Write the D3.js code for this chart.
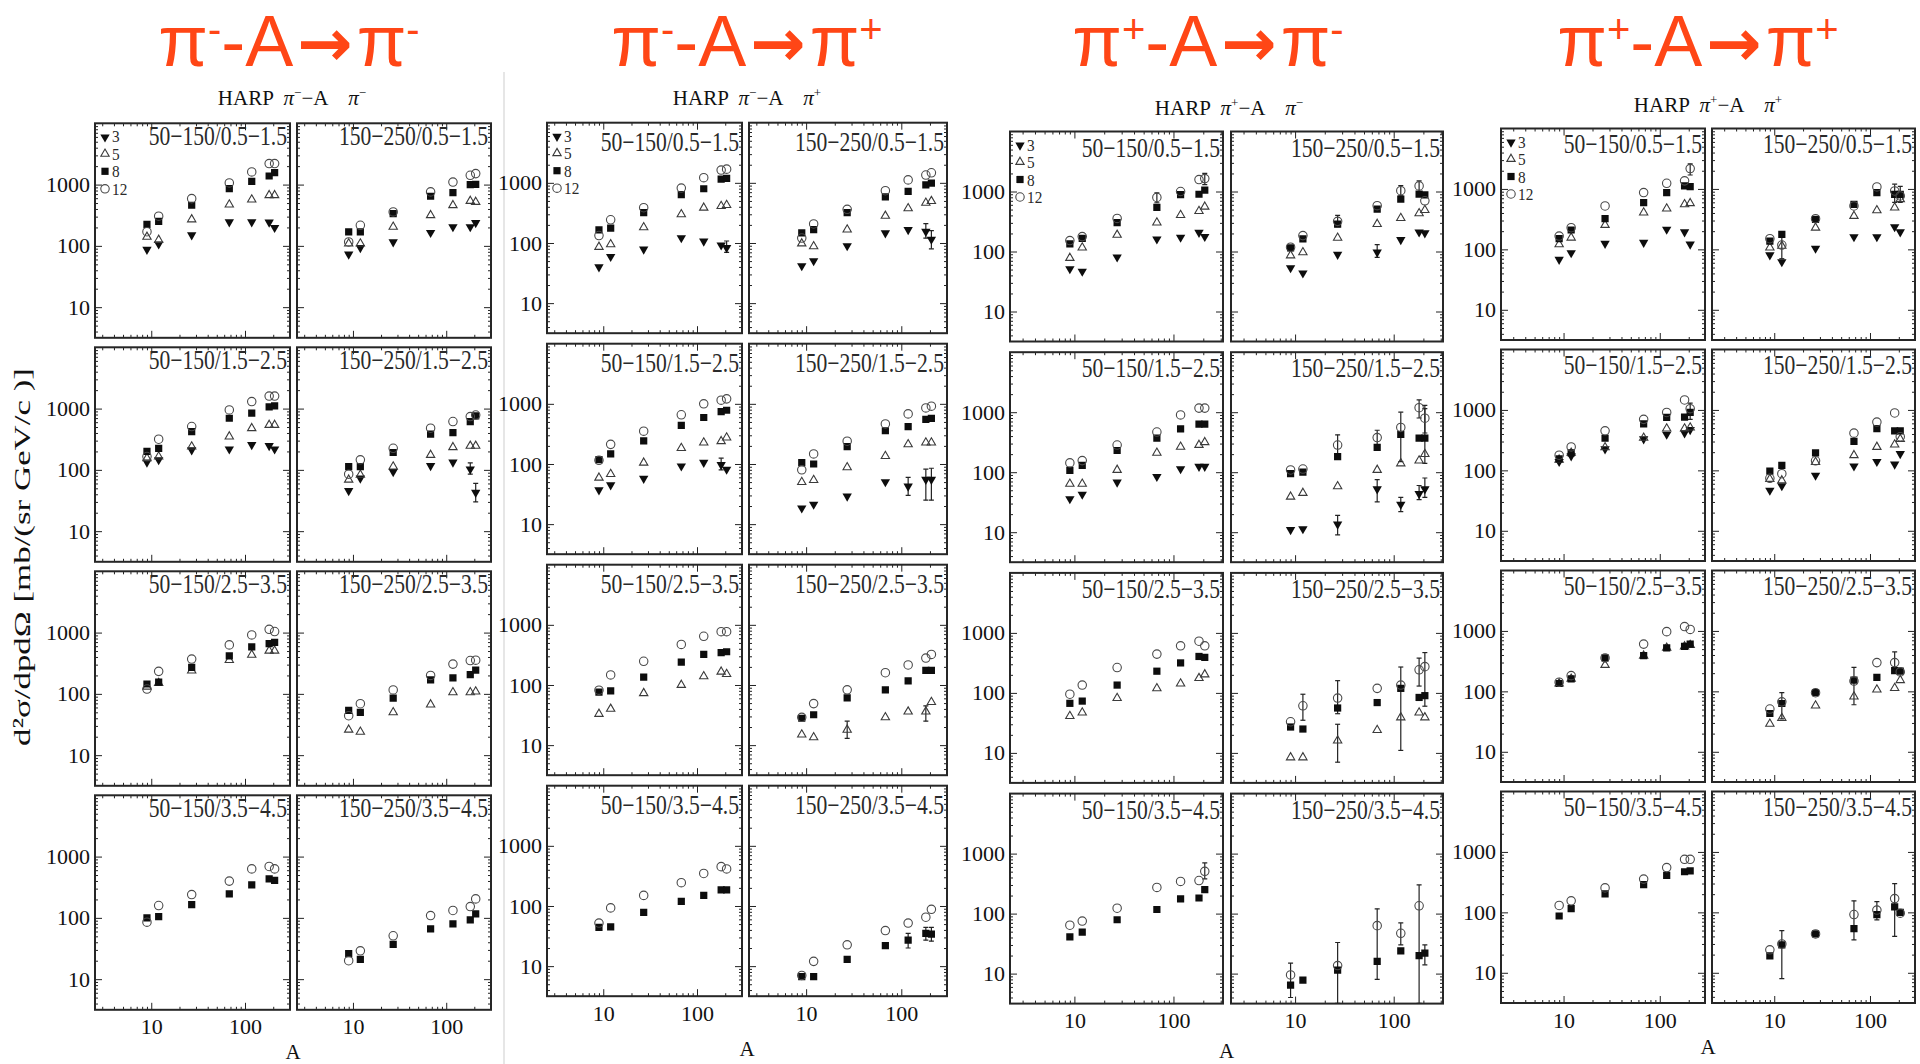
<!DOCTYPE html>
<html>
<head>
<meta charset="utf-8">
<script src="https://cdn.jsdelivr.net/npm/d3@7"></script>
<style>
  body { margin: 0; background: #fff; }
  svg { display: block; }
</style>
</head>
<body>
<svg id="fig" width="1920" height="1064"></svg>
<script>
// ---- data -------------------------------------------------------------
// target mass numbers: Be, C, Al, Cu, Sn, Ta, Pb
const targetA = [9, 12, 27, 68, 118, 181, 207];
// beam momenta (GeV/c) = legend entries, series order in every panel
const beamMomenta = [3, 5, 8, 12];
// angle (mrad) / momentum (GeV/c) bins
const angleBins = ["50\u2212150", "150\u2212250"];
const momentumBins = ["0.5\u22121.5", "1.5\u22122.5", "2.5\u22123.5", "3.5\u22124.5"];
const xTickLabels = [10, 100];
const yTickLabels = [10, 100, 1000];
const beamCharges = ["\u2212", "\u2212", "+", "+"];
const producedCharges = ["\u2212", "+", "\u2212", "+"];

const N = null;
// panels row-major: [50-150/0.5-1.5, 150-250/0.5-1.5, 50-150/1.5-2.5, ...]
// each panel: series for 3, 5, 8, 12 GeV/c (values per target)
const piMinusToPiMinus = [
  [[90,110,155,252,252,250,204],[140,125,270,472,570,670,670],[225,252,460,860,1130,1380,1570],[170,305,590,1065,1610,2200,2200]],
  [[75,96,119,169,210,210,245],[109,109,204,316,460,540,520],[169,169,336,645,740,1000,1010],[116,217,358,760,1100,1420,1510]],
  [[137,150,217,225,265,255,225],[155,165,240,350,478,540,540],[200,225,420,695,840,1070,1110],[165,316,510,950,1300,1600,1600]],
  [[47,75,96,120,137,106,44],[69,83,113,175,234,246,246],[113,113,192,382,405,615,760],[85,146,225,478,615,740,785]],
  [N,[131,150,240,355,434,505,505],[145,155,270,418,586,663,690],[120,233,370,630,915,1130,1040]],
  [N,[26,24,50,67,106,106,109],[54,50,85,169,182,206,245],[44,69,116,200,306,350,355]],
  [N,N,[100,105,165,246,346,433,408],[85,159,240,398,630,690,630]],
  [N,N,[26,21,37,66,80,93,116],[20,29,51,109,132,153,204]]
];
const piMinusToPiPlus = [
  [[41,61,81,125,110,95,86],[86,95,182,300,386,411,427],[165,176,320,637,798,1150,1190],[133,243,386,818,1220,1630,1690]],
  [[43,52,92,151,171,160,118],[98,88,167,282,377,466,496],[147,167,320,584,722,927,990],[121,207,363,740,1120,1350,1470]],
  [[38,46,59,95,109,100,84],[59,68,105,184,227,239,275],[118,147,243,440,593,743,783],[115,212,351,658,1000,1150,1210]],
  [[19,22,30,52,44,57,57],[50,54,88,135,212,227,227],[105,100,194,357,417,552,572],[80,147,239,464,681,855,915]],
  [N,[33,40,73,100,139,166,152],[76,80,135,239,322,345,357],[82,147,248,472,646,770,770]],
  [N,[15,13.5,18,29,36,36,52],[28,32,61,83,117,175,175],[29,49,83,160,215,280,322]],
  [N,N,[44,45,78,119,150,185,185],[52,93,150,244,347,451,413]],
  [N,N,[6.7,6.7,13,22,27,35,34],[7,12,22.6,39,52,65,88]]
];
const piPlusToPiMinus = [
  [[53,48,83,166,177,214,182],[78,116,189,303,405,472,557],[134,166,303,543,890,900,1050],[152,177,356,795,1000,1580,1640]],
  [[55,45,92,100,162,217,210],[86,97,169,287,361,432,490],[115,162,287,510,746,903,880],[118,184,318,580,1030,1240,700]],
  [[37,44,70,87,117,128,128],[64,64,109,210,265,284,316],[107,130,230,371,529,631,631],[143,156,284,467,900,1170,1170]],
  [[11.3,11.7,14,54,30,45,54],[39,45,58,109,140,156,200],[95,100,182,260,428,371,371],[109,113,284,378,557,1190,795]],
  [N,[41,47,82,119,143,176,203],[67,73,135,230,316,405,391],[95,135,265,443,609,727,609]],
  [N,[8.4,8.4,16,24,39,47,39],[27,25,56,69,119,84,90],[33,61,82,119,135,243,274]],
  [N,N,[41,49,79,117,176,182,250],[64,75,123,273,344,356,507]],
  [N,N,[6.4,7.8,11.4,16,24,20,22],[9.5,N,13.6,63,47,135,N]]
];
const piPlusToPiPlus = [
  [[70,90,129,134,220,200,125],[121,156,253,405,472,557,580],[150,209,322,593,870,1120,1090],[166,228,522,870,1240,1360,2170]],
  [[83,64,107,166,166,243,200],[107,114,228,357,443,490,675],[137,177,314,557,870,815,815],[150,118,322,522,1080,925,765]],
  [[144,178,232,340,405,427,483],[150,195,240,346,492,492,510],[155,195,340,586,750,760,908],[178,244,451,698,908,1460,1050]],
  [[48,57,85,121,144,130,194],[72,68,137,178,244,267,329],[97,121,194,302,492,451,451],[74,88,144,413,630,890,360]],
  [N,[135,161,273,389,524,553,583],[135,161,357,389,524,553,605],[142,182,357,605,973,1180,1060]],
  [N,[29,36,58,82,107,113,153],[43,63,95,153,170,221,217],[51,67,95,148,299,299,210]],
  [N,N,[87,115,202,287,408,470,486],[130,155,254,355,550,755,755]],
  [N,N,[19,29,44,54,92,123,100],[24,30,44,92,109,169,97]]
];
// larger uncertainties: [reaction, panel, series, target, low, high]
const errorBars = [
  [0,3,0,5,85,130],[0,3,0,6,30,60],
  [1,0,0,6,70,108],
  [1,1,0,5,120,210],[1,1,0,6,80,160],
  [1,2,0,5,80,125],
  [1,3,0,4,30,60],[1,3,0,5,25,82],[1,3,0,6,25,85],
  [1,5,1,2,13,25],[1,5,1,5,25,45],
  [1,7,2,4,20,35],[1,7,2,5,27,44],[1,7,2,6,26,44],
  [2,0,3,6,1300,2000],[2,0,3,3,650,950],
  [2,1,0,3,80,130],[2,1,3,5,1000,1500],[2,1,3,4,850,1250],[2,1,3,2,260,400],
  [2,3,0,2,9,19],[2,3,0,3,32,75],[2,3,0,4,22,38],[2,3,0,5,35,60],[2,3,0,6,38,80],
  [2,3,2,4,150,1000],[2,3,3,5,800,1600],[2,3,3,6,450,1300],[2,3,3,2,200,420],[2,3,3,3,280,500],[2,3,2,6,140,1150],
  [2,5,3,1,35,95],[2,5,3,2,45,160],[2,5,1,2,7,30],[2,5,2,4,11,270],[2,5,3,5,130,380],[2,5,3,6,60,470],
  [2,6,3,6,380,700],
  [2,7,3,0,4,15],[2,7,2,2,3.2,33],[2,7,3,3,8,120],[2,7,3,4,30,70],[2,7,3,5,3.2,300],[2,7,2,6,14,30],
  [3,0,3,6,1700,2600],
  [3,1,3,1,70,175],[3,1,3,5,600,1200],[3,1,2,6,600,1100],
  [3,2,2,6,700,1300],
  [3,5,3,3,60,250],[3,5,3,5,200,450],[3,5,2,1,35,95],
  [3,7,2,1,8,50],[3,7,3,3,35,155],[3,7,3,5,40,300],[3,7,3,4,75,150]
];

const reactions = [piMinusToPiMinus, piMinusToPiPlus, piPlusToPiMinus, piPlusToPiPlus];

// ---- layout -----------------------------------------------------------
const layout = [
  { cols: [[95,290],[297,491]],     top: 123.3, pitch: 224,   h: 214.5, xLo: 0.4,  xHi: 2.48, lblDy: 22, titleX: 289,  subX: 292,  subY: 105, aY: 1059 },
  { cols: [[547,742],[749,947]],    top: 122.7, pitch: 221,   h: 210.5, xLo: 0.4,  xHi: 2.48, lblDy: 28, titleX: 747,  subX: 747,  subY: 105, aY: 1056 },
  { cols: [[1010,1223],[1231,1443]],top: 131.5, pitch: 220.7, h: 210,   xLo: 0.35, xHi: 2.5,  lblDy: 25, titleX: 1208, subX: 1229, subY: 115, aY: 1058 },
  { cols: [[1501,1705],[1712,1915]],top: 128.5, pitch: 221,   h: 211.5, xLo: 0.35, xHi: 2.47, lblDy: 24, titleX: 1698, subX: 1708, subY: 112, aY: 1054 }
];
const serif = "'Liberation Serif','Times New Roman',serif";
const sans = "'Liberation Sans',Arial,sans-serif";

const svg = d3.select("#fig");
svg.append("rect").attr("width", 1920).attr("height", 1064).attr("fill", "#fff");

// thin divider between the first two blocks
svg.append("line").attr("x1", 504).attr("x2", 504).attr("y1", 72).attr("y2", 1064)
  .attr("stroke", "#dedede").attr("stroke-width", 1.5);

// figure-wide y axis title
svg.append("text")
  .attr("transform", "translate(30,557) rotate(-90)")
  .attr("text-anchor", "middle")
  .attr("font-family", serif).attr("font-size", 24).attr("fill", "#111")
  .attr("textLength", 378).attr("lengthAdjust", "spacingAndGlyphs")
  .text("d\u00B2\u03C3/dpd\u03A9 [mb/(sr GeV/c )]");

const symGen = {
  0: d3.symbol(d3.symbolTriangle, 38),
  1: d3.symbol(d3.symbolTriangle, 30),
  2: d3.symbol(d3.symbolSquare, 52),
  3: d3.symbol(d3.symbolCircle, 56)
};
function marker(g, s, x, y) {
  const p = g.append("path").attr("d", symGen[s]());
  if (s === 0) p.attr("transform", `translate(${x},${y + 0.8}) rotate(180)`).attr("fill", "#0d0d0d");
  if (s === 1) p.attr("transform", `translate(${x},${y})`).attr("fill", "none").attr("stroke", "#3a3a3a").attr("stroke-width", 1.1);
  if (s === 2) p.attr("transform", `translate(${x},${y})`).attr("fill", "#0d0d0d");
  if (s === 3) p.attr("transform", `translate(${x},${y})`).attr("fill", "none").attr("stroke", "#4a4a4a").attr("stroke-width", 1.1);
}

const isDecade = v => Math.abs(Math.log10(v) - Math.round(Math.log10(v))) < 1e-9;

reactions.forEach((panels, gi) => {
  const L = layout[gi];
  const G = svg.append("g");

  // big coloured reaction title
  const tt = G.append("text")
    .attr("x", L.titleX).attr("y", 66).attr("text-anchor", "middle")
    .attr("font-family", sans).attr("font-size", 72).attr("fill", "#ff4616");
  tt.append("tspan").text("\u03C0");
  tt.append("tspan").attr("font-size", 40).attr("dy", -23).text(beamCharges[gi] === "+" ? "+" : "-");
  tt.append("tspan").attr("dy", 23).text("-A");
  tt.append("tspan").attr("font-family", "'DejaVu Sans',sans-serif").attr("font-weight", "bold")
    .attr("font-size", 66).attr("dx", 4).text("\u2192");
  tt.append("tspan").attr("dx", 4).text("\u03C0");
  tt.append("tspan").attr("font-size", 40).attr("dy", -23).text(producedCharges[gi] === "+" ? "+" : "-");

  // HARP subtitle
  const st = G.append("text")
    .attr("x", L.subX).attr("y", L.subY).attr("text-anchor", "middle")
    .attr("font-family", serif).attr("font-size", 21).attr("fill", "#111")
    .attr("style", "white-space:pre");
  st.append("tspan").text("HARP  ");
  st.append("tspan").attr("font-style", "italic").text("\u03C0");
  st.append("tspan").attr("font-size", 13).attr("dy", -8).text(beamCharges[gi]);
  st.append("tspan").attr("dy", 8).text("\u2212A    ");
  st.append("tspan").attr("font-style", "italic").text("\u03C0");
  st.append("tspan").attr("font-size", 13).attr("dy", -8).text(producedCharges[gi]);

  // "A" axis title under the block
  G.append("text")
    .attr("x", (L.cols[0][0] + L.cols[1][1]) / 2).attr("y", L.aY)
    .attr("text-anchor", "middle").attr("font-family", serif).attr("font-size", 21)
    .attr("fill", "#111").text("A");

  panels.forEach((series, pi) => {
    const r = Math.floor(pi / 2), c = pi % 2;
    const [x0, x1] = L.cols[c];
    const y0 = L.top + r * L.pitch, y1 = y0 + L.h;
    const xs = d3.scaleLog().domain([10 ** L.xLo, 10 ** L.xHi]).range([x0, x1]);
    const ys = d3.scaleLog().domain([10 ** 0.5, 1e4]).range([y1, y0]);
    const P = G.append("g");

    const clipId = `clip-${gi}-${pi}`;
    P.append("clipPath").attr("id", clipId).append("rect")
      .attr("x", x0).attr("y", y0).attr("width", x1 - x0).attr("height", y1 - y0);

    const xMinor = xs.ticks(20).filter(v => !isDecade(v));
    const yMinor = ys.ticks(20).filter(v => !isDecade(v));

    const styleAxis = a => {
      a.select(".domain").remove();
      a.selectAll("line").attr("stroke", "#222").attr("stroke-width", 1);
      a.selectAll("text").attr("font-family", serif).attr("font-size", 22).attr("fill", "#111");
    };
    // minor ticks on all four sides
    P.append("g").attr("transform", `translate(0,${y1})`)
      .call(d3.axisBottom(xs).tickValues(xMinor).tickSizeInner(-3).tickSizeOuter(0).tickFormat("")).call(styleAxis);
    P.append("g").attr("transform", `translate(0,${y0})`)
      .call(d3.axisTop(xs).tickValues(xMinor).tickSizeInner(-3).tickSizeOuter(0).tickFormat("")).call(styleAxis);
    P.append("g").attr("transform", `translate(${x0},0)`)
      .call(d3.axisLeft(ys).tickValues(yMinor).tickSizeInner(-3).tickSizeOuter(0).tickFormat("")).call(styleAxis);
    P.append("g").attr("transform", `translate(${x1},0)`)
      .call(d3.axisRight(ys).tickValues(yMinor).tickSizeInner(-3).tickSizeOuter(0).tickFormat("")).call(styleAxis);
    // major ticks, labelled on the outer edges only
    P.append("g").attr("transform", `translate(0,${y1})`)
      .call(d3.axisBottom(xs).tickValues(xTickLabels).tickSizeInner(-7).tickSizeOuter(0).tickPadding(9)
        .tickFormat(r === 3 ? d3.format("d") : "")).call(styleAxis);
    P.append("g").attr("transform", `translate(0,${y0})`)
      .call(d3.axisTop(xs).tickValues(xTickLabels).tickSizeInner(-7).tickSizeOuter(0).tickFormat("")).call(styleAxis);
    P.append("g").attr("transform", `translate(${x0},0)`)
      .call(d3.axisLeft(ys).tickValues(yTickLabels).tickSizeInner(-7).tickSizeOuter(0).tickPadding(5)
        .tickFormat(c === 0 ? d3.format("d") : "")).call(styleAxis);
    P.append("g").attr("transform", `translate(${x1},0)`)
      .call(d3.axisRight(ys).tickValues(yTickLabels).tickSizeInner(-7).tickSizeOuter(0).tickFormat("")).call(styleAxis);

    // frame
    P.append("rect").attr("x", x0).attr("y", y0).attr("width", x1 - x0).attr("height", y1 - y0)
      .attr("fill", "none").attr("stroke", "#262626").attr("stroke-width", 2);

    // bin label
    P.append("text")
      .attr("transform", `translate(${x1 - 3},${y0 + L.lblDy}) scale(0.8,1)`)
      .attr("text-anchor", "end").attr("font-family", serif).attr("font-size", 27)
      .attr("fill", "#2a2a2a").text(`${angleBins[c]}/${momentumBins[r]}`);

    // legend in the first panel
    if (pi === 0) {
      beamMomenta.forEach((m, s) => {
        const ly = y0 + 13 + s * 17.5;
        marker(P, s, x0 + 10, ly);
        P.append("text").attr("transform", `translate(${x0 + 17},${ly + 6}) scale(0.9,1)`)
          .attr("font-family", serif).attr("font-size", 17).attr("fill", "#2a2a2a").text(m);
      });
    }

    // data
    const D = P.append("g").attr("clip-path", `url(#${clipId})`);
    errorBars.filter(e => e[0] === gi && e[1] === pi).forEach(e => {
      const x = xs(targetA[e[3]]);
      D.append("line").attr("x1", x).attr("x2", x).attr("y1", ys(e[4])).attr("y2", ys(e[5]))
        .attr("stroke", "#222").attr("stroke-width", 1.2);
      [e[4], e[5]].forEach(v => D.append("line").attr("x1", x - 2.5).attr("x2", x + 2.5)
        .attr("y1", ys(v)).attr("y2", ys(v)).attr("stroke", "#222").attr("stroke-width", 1.2));
    });
    series.forEach((vals, s) => {
      if (!vals) return;
      vals.forEach((v, k) => {
        if (v == null) return;
        marker(D, s, xs(targetA[k]), ys(v));
      });
    });
  });
});
</script>
</body>
</html>
